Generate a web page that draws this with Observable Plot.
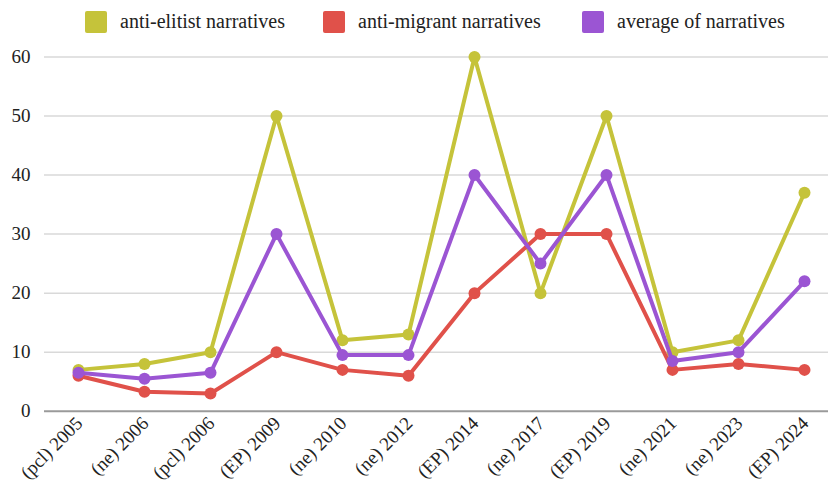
<!DOCTYPE html>
<html>
<head>
<meta charset="utf-8">
<script src="https://cdn.jsdelivr.net/npm/d3@7"></script>
<script src="https://cdn.jsdelivr.net/npm/@observablehq/plot@0.6"></script>
<style>
  body { margin: 0; background: #fff; font-family: "Liberation Serif", "Times New Roman", serif; }
  #legend { position: relative; height: 43px; width: 828px; }
  .item { position: absolute; top: 10px; display: flex; align-items: center; font-size: 20px; color: #222; white-space: nowrap; }
  .sw { width: 22px; height: 22px; margin-right: 13px; border-radius: 2px; }
</style>
</head>
<body>
<div id="legend"></div>
<div id="chart"></div>
<script>
// Election labels (type of election and year)
const categories = ["(pcl) 2005", "(ne) 2006", "(pcl) 2006", "(EP) 2009", "(ne) 2010", "(ne) 2012",
                    "(EP) 2014", "(ne) 2017", "(EP) 2019", "(ne) 2021", "(ne) 2023", "(EP) 2024"];

// Share of narratives per election
const antiElitist = [7, 8, 10, 50, 12, 13, 60, 20, 50, 10, 12, 37];
const antiMigrant = [6, 3.3, 3, 10, 7, 6, 20, 30, 30, 7, 8, 7];
const averageOfNarratives = [6.5, 5.5, 6.5, 30, 9.5, 9.5, 40, 25, 40, 8.5, 10, 22];

const seriesNames = ["anti-elitist narratives", "anti-migrant narratives", "average of narratives"];
const seriesColors = ["#c5c33a", "#e0514a", "#9b55d3"];
const yTicks = [0, 10, 20, 30, 40, 50, 60];

// Legend row above the chart
const legendLeft = [85, 323, 582];
const legend = document.getElementById("legend");
seriesNames.forEach((name, i) => {
  const item = document.createElement("div");
  item.className = "item";
  item.style.left = legendLeft[i] + "px";
  item.innerHTML = `<span class="sw" style="background:${seriesColors[i]}"></span><span>${name}</span>`;
  legend.appendChild(item);
});

// Long-format table built from the series arrays
const seriesValues = [antiElitist, antiMigrant, averageOfNarratives];
const rows = seriesValues.map((vals, i) =>
  vals.map((v, j) => ({series: seriesNames[i], category: categories[j], value: v}))
);

const seriesMarks = rows.flatMap((data) => [
  Plot.line(data, {x: "category", y: "value", stroke: "series", strokeWidth: 4, strokeLinejoin: "round"}),
  Plot.dot(data, {x: "category", y: "value", fill: "series", r: 6})
]);

const chart = Plot.plot({
  width: 828,
  height: 450,
  marginLeft: 44,
  marginRight: 0,
  marginTop: 13.5,
  marginBottom: 82.3,
  style: {fontFamily: "'Liberation Serif', 'Times New Roman', serif", color: "#222", background: "#fff"},
  x: {type: "point", domain: categories, range: [77, 805.5], padding: 0, label: null},
  y: {domain: [0, 60], ticks: yTicks, label: null},
  color: {domain: seriesNames, range: seriesColors},
  marks: [
    Plot.ruleY(yTicks.filter((d) => d > 0), {stroke: "#d9d9d9", strokeWidth: 1.5}),
    Plot.ruleY([0], {stroke: "#9a9a9a", strokeWidth: 2}),
    Plot.axisY({ticks: yTicks, tickSize: 0, tickPadding: 14, fontSize: 19, label: null}),
    Plot.axisX({tickSize: 0, tickPadding: 9, tickRotate: -45, fontSize: 19, dx: 1, label: null}),
    ...seriesMarks
  ]
});
document.getElementById("chart").appendChild(chart);
</script>
</body>
</html>
